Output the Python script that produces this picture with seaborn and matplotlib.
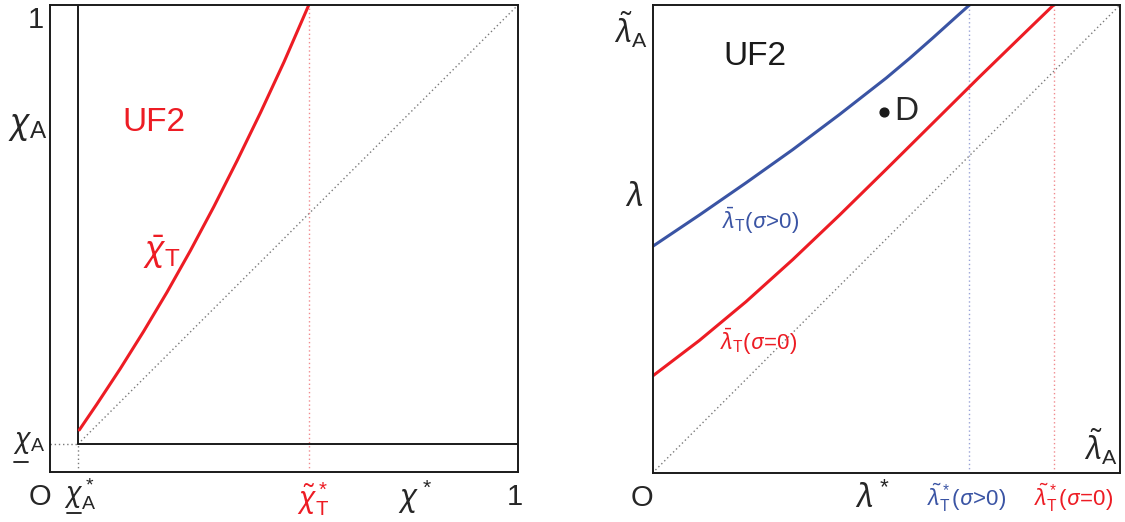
import matplotlib
matplotlib.use("Agg")
import matplotlib.pyplot as plt
import seaborn as sns

# ---- left panel: bar-chi_T threshold against chi* ----
chi_star = [0.0626, 0.10, 0.15, 0.20, 0.25, 0.30, 0.35, 0.40, 0.45, 0.50, 0.553]
chi_bar_T = [0.090, 0.145, 0.221, 0.301, 0.385, 0.474, 0.568, 0.667, 0.770, 0.878, 1.000]
chi_A_low = 0.06          # underline-chi_A (both axes)
chi_T_tilde_star = 0.553  # tilde-chi_T*

# ---- right panel: bar-lambda_T for sigma>0 and sigma=0 ----
lam_star_pos = [0.0, 0.1, 0.2, 0.3, 0.4, 0.5, 0.55, 0.6, 0.65, 0.678]
lam_bar_T_pos = [0.484, 0.551, 0.620, 0.691, 0.766, 0.844, 0.886, 0.930, 0.975, 1.000]
lam_star_zero = [0.0, 0.1, 0.2, 0.3, 0.4, 0.5, 0.6, 0.7, 0.8, 0.858]
lam_bar_T_zero = [0.207, 0.283, 0.366, 0.456, 0.551, 0.649, 0.748, 0.847, 0.944, 1.000]
lam_T_tilde_star_pos = 0.678
lam_T_tilde_star_zero = 0.858
point_D = (0.496, 0.772)

RED = "#ED1C24"
BLUE = "#3A54A4"
RED_LIGHT = "#F08A8E"
BLUE_LIGHT = "#98A2D6"
GREY_DOT = "#7A7A7A"
INK = "#1a1a1a"

sns.set_theme(style="white")
plt.rcParams["font.family"] = ["Liberation Sans", "DejaVu Sans"]
plt.rcParams["mathtext.fontset"] = "custom"
plt.rcParams["mathtext.rm"] = "Liberation Sans"
plt.rcParams["mathtext.it"] = "Noto Sans:italic"
plt.rcParams["mathtext.bf"] = "Liberation Sans:bold"
plt.rcParams["mathtext.sf"] = "Liberation Sans"

fig = plt.figure(figsize=(11.25, 5.22), dpi=100)
fig.patch.set_facecolor("white")

axL = fig.add_axes([50 / 1125, 50 / 522, 468 / 1125, 467 / 522])
axR = fig.add_axes([652.5 / 1125, 49 / 522, 467.5 / 1125, 468 / 522])

DOT = (0, (1, 2))

for ax in (axL, axR):
    ax.set_xlim(0, 1)
    ax.set_ylim(0, 1)
    ax.set_xticks([])
    ax.set_yticks([])
    ax.set_xlabel("")
    ax.set_ylabel("")
    for s in ax.spines.values():
        s.set_visible(True)
        s.set_color(INK)
        s.set_linewidth(1.4)

# ---------------- left panel ----------------
ax = axL
# 45-degree reference and guide lines
ax.plot([chi_A_low, 1], [chi_A_low, 1], color=GREY_DOT, lw=1.0, ls=DOT)
ax.plot([0, chi_A_low], [chi_A_low, chi_A_low], color=GREY_DOT, lw=1.0, ls=DOT)
ax.plot([chi_A_low, chi_A_low], [0, chi_A_low], color=GREY_DOT, lw=1.0, ls=DOT)
ax.axvline(chi_T_tilde_star, color=RED_LIGHT, lw=1.0, ls=DOT)
# inner frame at the chi_A lower bound
ax.plot([chi_A_low, chi_A_low], [chi_A_low, 1], color=INK, lw=1.4)
ax.plot([chi_A_low, 1], [chi_A_low, chi_A_low], color=INK, lw=1.4)
# threshold curve
sns.lineplot(x=chi_star, y=chi_bar_T, ax=ax, color=RED, lw=2.2,
             sort=False, estimator=None)

ax.text(0.222, 0.749, "UF2", color=RED, fontsize=24, ha="center", va="center")
ax.text(0.24, 0.47, r"$\bar{\chi}_\mathrm{T}$", color=RED, fontsize=25,
        ha="center", va="center")

# axis annotations
ax.text(-0.031, 0.967, "1", fontsize=21, ha="center", va="center")
ax.text(-0.047, 0.74, r"$\chi_\mathrm{A}$", fontsize=25, ha="center", va="center")
# underlined chi_A (lower bound) on both axes
ax.text(-0.045, 0.062, r"$\chi_\mathrm{A}$", fontsize=20, ha="center", va="center")
ax.plot([-0.077, -0.047], [0.022, 0.022], color=INK, lw=1.3, clip_on=False)

ax.text(-0.021, -0.054, "O", fontsize=21, ha="center", va="center")
ax.text(0.064, -0.047, r"$\chi^*_\mathrm{A}$", fontsize=20, ha="center", va="center")
ax.plot([0.036, 0.066], [-0.088, -0.088], color=INK, lw=1.3, clip_on=False)
ax.text(chi_T_tilde_star + 0.01, -0.058, r"$\tilde{\chi}^*_\mathrm{T}$", color=RED,
        fontsize=21, ha="center", va="center")
ax.text(0.78, -0.054, r"$\chi^*$", fontsize=22, ha="center", va="center")
ax.text(0.993, -0.054, "1", fontsize=21, ha="center", va="center")

# ---------------- right panel ----------------
ax = axR
ax.plot([0, 1], [0, 1], color=GREY_DOT, lw=1.0, ls=DOT)
ax.axvline(lam_T_tilde_star_pos, color=BLUE_LIGHT, lw=1.0, ls=DOT)
ax.axvline(lam_T_tilde_star_zero, color=RED_LIGHT, lw=1.0, ls=DOT)

sns.lineplot(x=lam_star_pos, y=lam_bar_T_pos, ax=ax, color=BLUE, lw=2.2,
             sort=False, estimator=None)
sns.lineplot(x=lam_star_zero, y=lam_bar_T_zero, ax=ax, color=RED, lw=2.2,
             sort=False, estimator=None)

ax.scatter([point_D[0]], [point_D[1]], s=40, color=INK, zorder=5)
ax.text(point_D[0] + 0.022, point_D[1], "D", fontsize=24, ha="left", va="center")
ax.text(0.22, 0.89, "UF2", fontsize=24, ha="center", va="center", color=INK)

ax.text(0.148, 0.539, r"$\bar{\lambda}_\mathrm{T}(\sigma\!>\!0)$", color=BLUE,
        fontsize=16, ha="left", va="center")
ax.text(0.144, 0.281, r"$\bar{\lambda}_\mathrm{T}(\sigma\!=\!0)$", color=RED,
        fontsize=16, ha="left", va="center")

ax.text(-0.046, 0.948, r"$\tilde{\lambda}_\mathrm{A}$", fontsize=22,
        ha="center", va="center")
ax.text(-0.04, 0.588, r"$\lambda$", fontsize=23, ha="center", va="center")
ax.text(0.959, 0.056, r"$\tilde{\lambda}_\mathrm{A}$", fontsize=22,
        ha="center", va="center")

ax.text(-0.023, -0.054, "O", fontsize=21, ha="center", va="center")
ax.text(0.47, -0.054, r"$\lambda^*$", fontsize=23, ha="center", va="center")
ax.text(0.673, -0.054, r"$\tilde{\lambda}^*_\mathrm{T}(\sigma\!>\!0)$", color=BLUE,
        fontsize=16, ha="center", va="center")
ax.text(0.901, -0.054, r"$\tilde{\lambda}^*_\mathrm{T}(\sigma\!=\!0)$", color=RED,
        fontsize=16, ha="center", va="center")

fig.savefig("out.png", dpi=100, facecolor="white")
